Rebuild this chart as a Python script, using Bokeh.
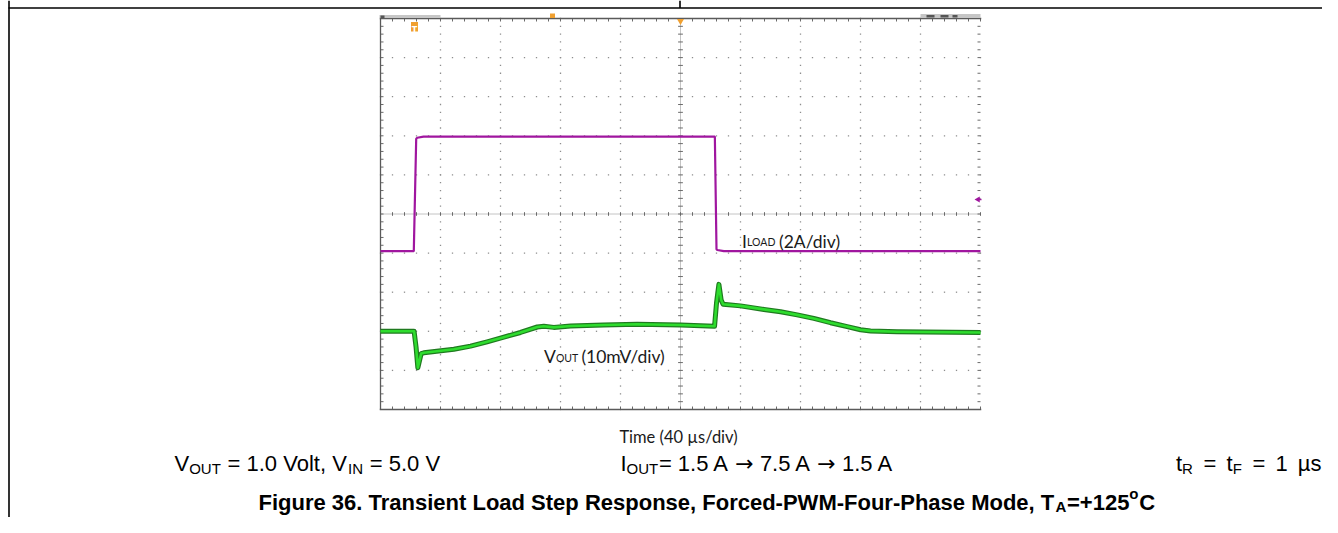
import numpy as np
from bokeh.plotting import figure
from bokeh.models import Range1d
from bokeh.core.properties import value
from bokeh.embed import file_html
from bokeh.resources import INLINE

# ---------------- data ----------------
# Load current step (I_LOAD), time in µs relative to screen centre, current in A
iload_time_us = [-200.0, -177.8, -176.2, -175.5, -171.3, 22.9, 24.0, 24.5, 28.9, 200.0]
iload_amp = [1.50, 1.50, 7.25, 7.30, 7.36, 7.36, 1.60, 1.56, 1.50, 1.50]

# Output voltage deviation (V_OUT, AC coupled), time in µs, deviation in mV
vout_time_us = [-200.0, -177.6, -176.3, -175.1, -172.9, -171.1, -151.1, -140.0, -128.9,
                -117.8, -106.7, -95.5, -91.1, -84.5, -73.3, -51.3, -28.9, 0.0, 22.7,
                24.0, 25.6, 27.1, 28.4, 40.0, 55.6, 66.7, 77.8, 88.9, 100.0, 111.1,
                120.0, 126.7, 144.4, 200.0]
vout_dev_mv = [0.0, 0.0, -4.0, -9.3, -5.7, -5.5, -4.6, -3.8, -2.7,
               -1.5, -0.3, 1.1, 1.3, 1.0, 1.35, 1.6, 1.8, 1.6, 1.3,
               7.2, 12.0, 8.0, 6.9, 6.5, 5.6, 5.0, 4.2, 3.3, 2.2, 1.2,
               0.4, 0.1, -0.1, -0.3]

# scope settings
TIME_PER_DIV = 40.0     # µs/div
ILOAD_PER_DIV = 2.0     # A/div
VOUT_PER_DIV = 10.0     # mV/div
ILOAD_POS = -1.7        # screen division where 0 A sits
VOUT_POS = -3.0         # screen division where 0 mV deviation sits

# text (kind: 0 normal, 1 subscript, 2 superscript, 3 symbol)
time_label = "Time (40 µs/div)"
cond1 = [("V", 0), ("OUT", 1), (" = 1.0 Volt, V", 0), ("IN", 1), (" = 5.0 V", 0)]
cond2 = [("I", 0), ("OUT", 1), ("= 1.5 A ", 0), ("\u2192", 3), (" 7.5 A ", 0), ("\u2192", 3),
         (" 1.5 A", 0)]
cond3 = [("t", 0), ("R", 1), (" =", 0), (" t", 0), ("F", 1), (" =", 0), (" 1", 0), (" µs", 0)]
title = [("Figure 36. Transient Load Step Response, Forced-PWM-Four-Phase Mode, T", 0),
         ("A", 1), ("=+125", 0), ("o", 2), ("C", 0)]
iload_label = [("I", 0), ("LOAD", 1), (" (2A/div)", 0)]
vout_label = [("V", 0), ("OUT", 1), (" (10mV/div)", 0)]

# ---------------- geometry (pixel layout of the screenshot) ----------------
W, H = 1322, 517
SC_L, SC_R, SC_T, SC_B = 380.0, 980.0, 18.0, 409.0
px_per_us = (SC_R - SC_L) / (10 * TIME_PER_DIV)
xc = (SC_L + SC_R) / 2
t0 = (0 - xc) / px_per_us
t1 = (W - xc) / px_per_us
px_per_div = (SC_B - SC_T) / 10
yc = (SC_T + SC_B) / 2
d_top = yc / px_per_div
d_bot = (yc - H) / px_per_div

p = figure(width=W, height=H, x_range=Range1d(t0, t1), y_range=Range1d(d_bot, d_top),
           output_backend="svg", toolbar_location=None, min_border=0,
           x_axis_location=None, y_axis_location=None, outline_line_color=None)
p.grid.visible = False
p.background_fill_color = "white"
p.border_fill_color = "white"
p.extra_x_ranges = {"px": Range1d(0, W)}
p.extra_y_ranges = {
    "py": Range1d(H, 0),
    "amp": Range1d((d_bot - ILOAD_POS) * ILOAD_PER_DIV, (d_top - ILOAD_POS) * ILOAD_PER_DIV),
    "mv": Range1d((d_bot - VOUT_POS) * VOUT_PER_DIV, (d_top - VOUT_POS) * VOUT_PER_DIV),
}

PX = dict(x_range_name="px", y_range_name="py")

# page frame lines
p.segment(x0=[8, 8.5, 679.5], y0=[7.5, 0, 0], x1=[W, 8.5, 679.5], y1=[7.5, H, 7.5],
          line_color="black", line_width=1.6, **PX)

# ---------------- scope graticule ----------------
tmin, tmax = -5 * TIME_PER_DIV, 5 * TIME_PER_DIV
minor_t = np.arange(tmin, tmax + 0.01, TIME_PER_DIV / 5)
minor_d = np.arange(-5, 5.001, 0.2)
major_t = [t for t in np.arange(tmin + TIME_PER_DIV, tmax, TIME_PER_DIV) if abs(t) > 1e-9]
major_d = [d for d in range(-4, 5) if d != 0]

gx, gy = [], []
for d in major_d:
    gx += list(minor_t); gy += [d] * len(minor_t)
for t in major_t:
    gx += [t] * len(minor_d); gy += list(minor_d)
p.rect(x=gx, y=gy, width=1.3, height=1.3, width_units="screen", height_units="screen",
       fill_color="#8e8e8e", line_color=None)

tick_t = 3 / px_per_us
tick_d = 3 / px_per_div
gray = "#6a6a6a"
# centre cross
p.segment(x0=[tmin], y0=[0], x1=[tmax], y1=[0], line_color="#c4c4c4", line_width=1)
p.segment(x0=[0], y0=[-5], x1=[0], y1=[5], line_color="#c4c4c4", line_width=1)
p.segment(x0=minor_t, y0=[-0.6 * tick_d] * len(minor_t), x1=minor_t, y1=[0.6 * tick_d] * len(minor_t),
          line_color=gray, line_width=1)
p.segment(x0=[-0.8 * tick_t] * len(minor_d), y0=minor_d, x1=[0.8 * tick_t] * len(minor_d), y1=minor_d,
          line_color=gray, line_width=1)
# edge ticks
n_t, n_d = len(minor_t), len(minor_d)
p.segment(x0=minor_t, y0=[5] * n_t, x1=minor_t, y1=[5 - tick_d] * n_t, line_color=gray, line_width=1)
p.segment(x0=minor_t, y0=[-5] * n_t, x1=minor_t, y1=[-5 + tick_d] * n_t, line_color=gray, line_width=1)
p.segment(x0=[tmin] * n_d, y0=minor_d, x1=[tmin + tick_t] * n_d, y1=minor_d, line_color=gray, line_width=1)
p.segment(x0=[tmax] * n_d, y0=minor_d, x1=[tmax - tick_t] * n_d, y1=minor_d, line_color=gray, line_width=1)
# border (top, left, bottom)
p.segment(x0=[tmin - 0.5, tmin, tmin - 0.5], y0=[5, -5, -5], x1=[tmax + 0.5, tmin, tmax + 0.5], y1=[5, 5, -5],
          line_color="#5a5a5a", line_width=1.3)

# scope header remnants and markers (screen decorations)
p.quad(left=[379, 920], right=[440, 980], top=[14.5, 13.5], bottom=[17.5, 17.5],
       fill_color="#c6c6c6", line_color=None, **PX)
p.quad(left=[380, 926, 940, 952], right=[384, 934, 948, 957], top=[15, 14.5, 14.5, 14.5],
       bottom=[17.5, 17, 17, 17], fill_color="#555555", line_color=None, **PX)
p.quad(left=[410.5, 549.5], right=[417.5, 554.5], top=[21.5, 13], bottom=[31, 17.5],
       fill_color="#f0a030", line_color=None, **PX)
p.text(x=[414], y=[29.5], text=["T"], text_font=value("DejaVu Sans"), text_font_size="8px",
       text_font_style="bold", text_color="white", text_align="center", text_baseline="alphabetic", **PX)
p.scatter(x=[680], y=[20.5], marker="inverted_triangle", size=7, fill_color="#f0a030",
          line_color=None, **PX)
p.scatter(x=[977.5], y=[199], marker="triangle", angle=np.pi / 2, size=6,
          fill_color="#a0169f", line_color=None, **PX)
p.segment(x0=[977], y0=[199], x1=[981], y1=[199], line_color="#a0169f", line_width=1.5, **PX)

# ---------------- traces ----------------
p.line(iload_time_us, iload_amp, y_range_name="amp", line_color="#a0169f", line_width=2.2)
p.line(vout_time_us, vout_dev_mv, y_range_name="mv", line_color="#1f7a1f", line_width=5,
       line_join="round")
p.line(vout_time_us, vout_dev_mv, y_range_name="mv", line_color="#2edc2e", line_width=2.6,
       line_join="round")

# ---------------- texts ----------------
AR = {' ': 278, '=': 584, '.': 278, ',': 278, 'V': 667, 'o': 556, 'l': 222, 't': 278, 'O': 778,
      'U': 722, 'T': 611, 'I': 278, 'N': 722, 'A': 667, 'R': 722, 'F': 611, 'µ': 576, 's': 500,
      '\u2192': 838}
AB = {' ': 278, 'F': 611, 'i': 278, 'g': 611, 'u': 611, 'r': 389, 'e': 556, '.': 278, 'T': 611,
      'a': 556, 'n': 611, 's': 556, 't': 333, 'L': 611, 'o': 611, 'd': 611, 'S': 667, 'p': 611,
      'R': 722, ',': 278, 'c': 556, '-': 333, 'P': 667, 'W': 944, 'M': 833, 'h': 611, 'A': 722,
      '=': 584, '+': 584, 'C': 722}
LA = {' ': 193, 'I': 290, 'L': 470, 'O': 770, 'A': 680, 'D': 740, 'V': 680, 'U': 720, 'T': 560,
      '(': 300, ')': 300, 'm': 860, '/': 370, 'd': 580, 'i': 240, 'v': 520}


def width(s, size, table, extra=0.0):
    return sum(table.get(c, 556) for c in s) * size / 1000.0 + extra * s.count(" ")


def put(pieces, x0, y, font, size, sub_size, table, bold=False, color="black", sub_dy=4,
        sup_dy=-8, extra=0.0):
    x = x0
    for s, kind in pieces:
        sz = size if kind in (0, 3) else sub_size
        dy = {0: 0, 1: sub_dy, 2: sup_dy, 3: 0}[kind]
        lead = len(s) - len(s.lstrip(" "))
        core = s.strip(" ")
        xs = x + width(" " * lead, sz, table, extra)
        p.text(x=[xs], y=[y + dy], text=[core],
               text_font=value("DejaVu Sans" if kind == 3 else font), text_font_size=f"{sz}px",
               text_font_style="bold" if bold else "normal", text_color=color,
               text_align="left", text_baseline="alphabetic", **PX)
        x += width(s, sz, table, extra) + (0.6 if kind in (1, 2) else 0)
    return x


def total(pieces, size, sub_size, table, extra=0.0):
    return sum(width(s, size if k in (0, 3) else sub_size, table, extra) + (0.6 if k in (1, 2) else 0)
               for s, k in pieces)


p.text(x=[678], y=[436], text=[time_label], text_font=value("Lato"), text_font_size="16.5px",
       text_color="#1a1a1a", text_align="center", text_baseline="alphabetic", **PX)
put(iload_label, 741.5, 240.5, "Lato", 17.5, 10.5, LA, color="#1a1a1a", sub_dy=1)
put(vout_label, 543.5, 356, "Lato", 17.5, 10.5, LA, color="#1a1a1a", sub_dy=1)

FS, SS = 22, 15
put(cond1, 174, 463, "Liberation Sans", FS, SS, AR, sub_dy=5)
put(cond2, 620, 463, "Liberation Sans", FS, SS, AR, sub_dy=5)
put(cond3, 1321 - total(cond3, FS, SS, AR, 4.0), 463, "Liberation Sans", FS, SS, AR, sub_dy=5,
    extra=4.0)
TS, TSS = 22, 15
put(title, 258, 502, "Liberation Sans", TS, TSS, AB, bold=True, sub_dy=4, sup_dy=-9)

open("out.html", "w").write(file_html(p, INLINE))
